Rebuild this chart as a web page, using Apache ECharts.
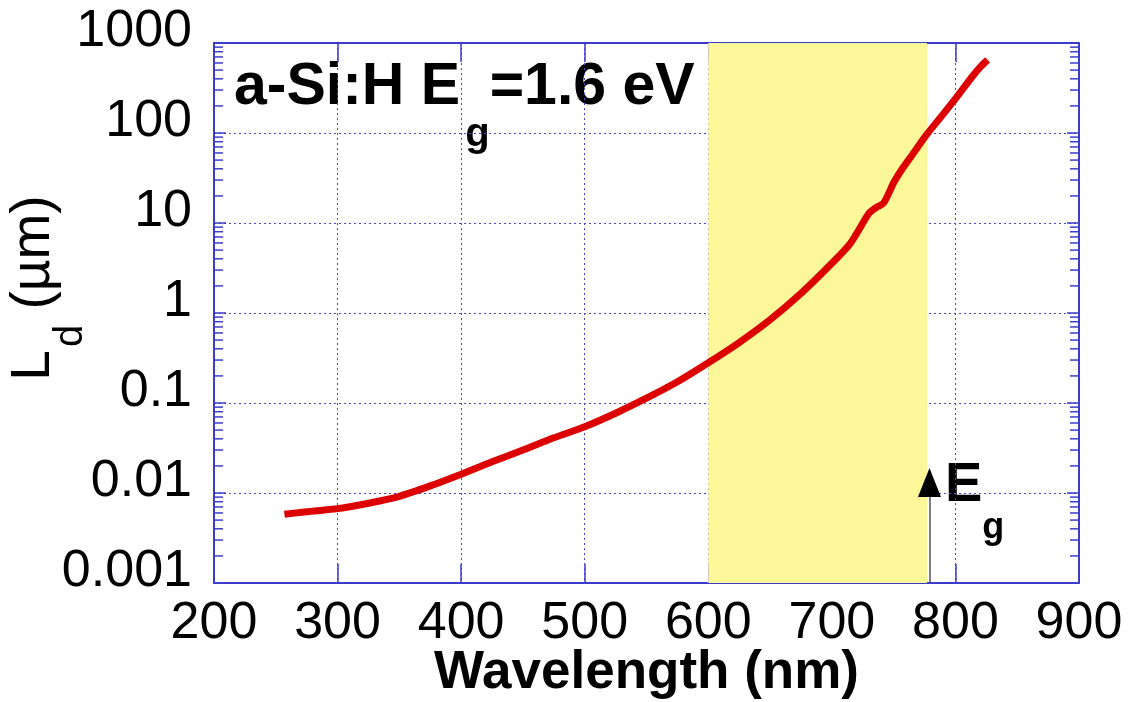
<!DOCTYPE html>
<html>
<head>
<meta charset="utf-8">
<script src="https://cdn.jsdelivr.net/npm/echarts@6/dist/echarts.min.js"></script>
<style>html,body{margin:0;padding:0;background:#fff;}#c{width:1130px;height:702px;}</style>
</head>
<body>
<div id="c"></div>
<script>
// ---- data ----
const wavelengths = [257, 275, 300, 325, 350, 375, 400, 425, 450, 475, 500, 525, 550, 575, 600, 625, 650, 675, 700, 715, 730, 735, 742, 750, 757, 765, 777, 789, 801, 814, 820, 826];
const diffusionLengths = [0.0058, 0.0062, 0.0067, 0.0077, 0.0092, 0.0120, 0.0162, 0.0222, 0.030, 0.041, 0.0545, 0.077, 0.113, 0.172, 0.28, 0.47, 0.84, 1.65, 3.57, 5.95, 12.8, 14.6, 16.8, 28, 40, 57, 97, 155, 250, 430, 540, 650];
const xTicks = [200, 300, 400, 500, 600, 700, 800, 900];
const yTickLabels = ['0.001', '0.01', '0.1', '1', '10', '100', '1000'];
const minorTickValues = [];
for (let k = -3; k <= 2; k++) for (let m = 2; m <= 9; m++) minorTickValues.push(m * Math.pow(10, k));
const bandStart = 600, bandEnd = 777;   // highlighted region (nm)
const gapWavelength = 779;              // Eg arrow position (nm)
const arrowHeadCenter = 0.0131;

const FONT = 'Liberation Sans, Arial, sans-serif';
const BLUE = '#3c3ccc';
const chart = echarts.init(document.getElementById('c'));

const common = {
  type: 'value', min: xTicks[0], max: xTicks[xTicks.length - 1], interval: 100
};
chart.setOption({
  animation: false,
  backgroundColor: '#fff',
  grid: { left: 214, right: 51, top: 43, bottom: 119, containLabel: false, outerBoundsMode: 'none' },
  xAxis: [
    Object.assign({}, common, {
      position: 'bottom',
      axisLine: { lineStyle: { color: BLUE, width: 2 } },
      axisTick: { inside: true, length: 19, lineStyle: { color: BLUE, width: 1.5 } },
      splitLine: { show: true, lineStyle: { color: '#4848c8', width: 1, type: [2, 3] } },
      axisLabel: { fontSize: 52, color: '#000', fontFamily: FONT, margin: 15 },
      name: 'Wavelength (nm)', nameLocation: 'middle', nameGap: 64, nameMoveOverlap: false,
      nameTextStyle: { fontSize: 53, fontWeight: 'bold', color: '#000', fontFamily: FONT }
    }),
    Object.assign({}, common, {
      position: 'top',
      axisLine: { lineStyle: { color: BLUE, width: 2 } },
      axisTick: { inside: true, length: 19, lineStyle: { color: BLUE, width: 1.5 } },
      splitLine: { show: false }, axisLabel: { show: false }
    })
  ],
  yAxis: [
    {
      type: 'log', logBase: 10, min: 0.001, max: 1000, position: 'left',
      axisLine: { lineStyle: { color: BLUE, width: 2 } },
      axisTick: { inside: true, length: 12, lineStyle: { color: BLUE, width: 1.5 } },
      splitLine: { show: true, lineStyle: { color: '#4848c8', width: 1, type: [2, 3] } },
      axisLabel: {
        margin: 22,
        formatter: v => '{t|' + yTickLabels[Math.round(Math.log10(v)) + 3] + '}',
        rich: { t: { fontSize: 52, color: '#000', fontFamily: FONT, lineHeight: 52, padding: [0, 0, 22, 0] } }
      }
    },
    {
      type: 'log', logBase: 10, min: 0.001, max: 1000, position: 'right',
      axisLine: { lineStyle: { color: BLUE, width: 2 } },
      axisTick: { inside: true, length: 12, lineStyle: { color: BLUE, width: 1.5 } },
      splitLine: { show: false }, axisLabel: { show: false }
    }
  ],
  series: [
    {
      type: 'line', data: [], z: -1, silent: true,
      markArea: {
        silent: true,
        itemStyle: { color: '#fcf89a' },
        data: [[{ xAxis: bandStart }, { xAxis: bandEnd }]]
      }
    },
    {
      type: 'custom', silent: true, z: 1,
      data: minorTickValues.map(v => [xTicks[0], v]),
      encode: { x: 0, y: 1 },
      renderItem: function (params, api) {
        const v = api.value(1);
        const l = api.coord([xTicks[0], v]);
        const r = api.coord([xTicks[xTicks.length - 1], v]);
        const st = { stroke: BLUE, lineWidth: 1.5 };
        return { type: 'group', children: [
          { type: 'line', shape: { x1: l[0], y1: l[1], x2: l[0] + 9, y2: l[1] }, style: st },
          { type: 'line', shape: { x1: r[0], y1: r[1], x2: r[0] - 9, y2: r[1] }, style: st }
        ]};
      }
    },
    {
      type: 'line', data: [], z: 3, silent: true,
      markLine: {
        silent: true, animation: false, symbol: 'none',
        label: { show: false },
        lineStyle: { color: '#555', width: 1.5, type: 'solid' },
        data: [[ { coord: [gapWavelength, 0.001] }, { coord: [gapWavelength, arrowHeadCenter] } ]]
      },
      markPoint: {
        silent: true, animation: false,
        symbol: 'triangle', symbolSize: [23, 29],
        itemStyle: { color: '#000' },
        label: { show: false },
        data: [{ coord: [gapWavelength, arrowHeadCenter] }]
      }
    },
    {
      type: 'line', z: 4, silent: true,
      data: wavelengths.map((w, i) => [w, diffusionLengths[i]]),
      showSymbol: false, symbol: 'none', smooth: 0.25,
      lineStyle: { color: '#dd0000', width: 7 }
    }
  ],
  graphic: [
    {
      type: 'text', x: 234, y: 87.5,
      style: {
        text: '{a|a-Si:H E}{b|g}{a|=1.6 eV}',
        align: 'left', verticalAlign: 'middle',
        rich: {
          a: { fontSize: 59, fontWeight: 'bold', fontFamily: FONT, fill: '#000', lineHeight: 64 },
          b: { fontSize: 40, fontWeight: 'bold', fontFamily: FONT, fill: '#000', lineHeight: 40, verticalAlign: 'top', padding: [59, 0, 0, 5] }
        }
      }
    },
    {
      type: 'text', x: 945, y: 486,
      style: {
        text: '{a|E}{b|g}',
        align: 'left', verticalAlign: 'middle',
        rich: {
          a: { fontSize: 56, fontWeight: 'bold', fontFamily: FONT, fill: '#000', lineHeight: 60 },
          b: { fontSize: 36, fontWeight: 'bold', fontFamily: FONT, fill: '#000', lineHeight: 36, verticalAlign: 'top', padding: [54, 0, 0, 0] }
        }
      }
    },
    {
      type: 'text', x: 34, y: 288, rotation: Math.PI / 2,
      style: {
        text: '{a|L}{b|d}{a| (µm)}',
        align: 'center', verticalAlign: 'middle',
        rich: {
          a: { fontSize: 55, fontFamily: FONT, fill: '#000', lineHeight: 60 },
          b: { fontSize: 40, fontFamily: FONT, fill: '#000', lineHeight: 40, verticalAlign: 'top', padding: [47, 0, 0, 3] }
        }
      }
    }
  ]
});
</script>
</body>
</html>
